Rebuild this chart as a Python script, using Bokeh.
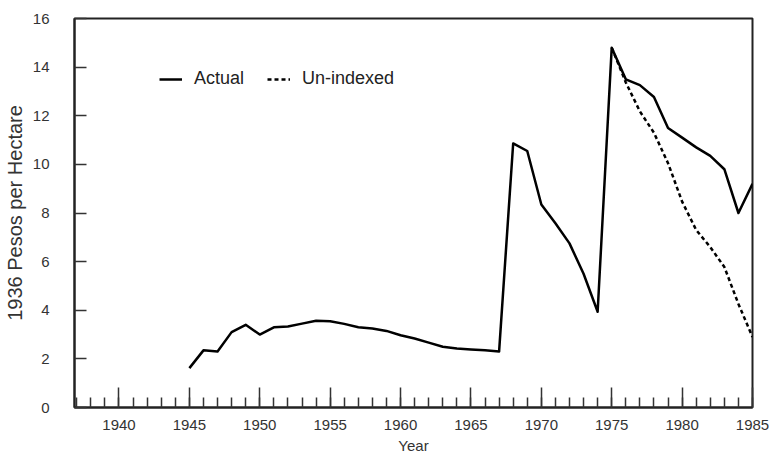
from bokeh.plotting import figure
from bokeh.models import SingleIntervalTicker, FixedTicker, Legend, LegendItem
from bokeh.embed import file_html
from bokeh.resources import INLINE

# Data
years_actual = list(range(1945, 1986))
actual = [1.62, 2.35, 2.3, 3.1, 3.4, 3.0, 3.3, 3.33, 3.45, 3.57,
          3.55, 3.44, 3.3, 3.25, 3.15, 2.97, 2.84, 2.67, 2.5, 2.43,
          2.39, 2.35, 2.3, 10.86, 10.55, 8.35, 7.58, 6.75, 5.5, 3.94,
          14.8, 13.5, 13.26, 12.77, 11.5, 11.1, 10.7, 10.35, 9.8, 8.0,
          9.2]
years_unindexed = list(range(1975, 1986))
unindexed = [14.8, 13.37, 12.18, 11.3, 10.05, 8.47, 7.3, 6.6, 5.78, 4.26, 2.9]
y_ticks = [0, 2, 4, 6, 8, 10, 12, 14, 16]

FONT = "Liberation Sans"
TXT = "#333333"

p = figure(width=775, height=458, x_range=(1936.84, 1985), y_range=(0, 16),
           output_backend="svg", toolbar_location=None,
           min_border_left=73, min_border_right=23, min_border_top=18,
           min_border_bottom=51)
p.grid.visible = False
p.background_fill_color = "white"
p.border_fill_color = "white"
p.outline_line_color = "#222222"
p.outline_line_width = 2

r_act = p.line(years_actual, actual, line_color="black", line_width=2.5,
               line_join="round")
r_un = p.line(years_unindexed, unindexed, line_color="black", line_width=2.5,
              line_dash="4 3")

# X axis
xa = p.xaxis[0]
xa.ticker = SingleIntervalTicker(interval=5, num_minor_ticks=5)
xa.axis_label = "Year"
xa.axis_label_text_font = FONT
xa.axis_label_text_font_style = "normal"
xa.axis_label_text_font_size = "15px"
xa.axis_label_text_color = TXT
xa.axis_label_standoff = 4
xa.major_label_text_font = FONT
xa.major_label_text_font_size = "15px"
xa.major_label_text_color = TXT
xa.major_label_standoff = 12
xa.major_tick_in = 20
xa.major_tick_out = 0
xa.minor_tick_in = 10
xa.minor_tick_out = 0
xa.major_tick_line_color = "#333333"
xa.minor_tick_line_color = "#333333"
xa.major_tick_line_width = 1.5
xa.minor_tick_line_width = 1.5
xa.axis_line_color = "#222222"
xa.axis_line_width = 2

# Y axis
ya = p.yaxis[0]
ya.ticker = FixedTicker(ticks=y_ticks)
ya.axis_label = "1936 Pesos per Hectare"
ya.axis_label_text_font = FONT
ya.axis_label_text_font_style = "normal"
ya.axis_label_text_font_size = "20px"
ya.axis_label_text_color = TXT
ya.axis_label_standoff = 4
ya.major_label_text_font = FONT
ya.major_label_text_font_size = "15px"
ya.major_label_text_color = TXT
ya.major_label_standoff = 25
ya.major_tick_in = 12
ya.major_tick_out = 0
ya.minor_tick_in = 0
ya.minor_tick_out = 0
ya.major_tick_line_color = "#333333"
ya.major_tick_line_width = 1.5
ya.axis_line_color = "#222222"
ya.axis_line_width = 2

legend = Legend(items=[LegendItem(label="Actual", renderers=[r_act]),
                       LegendItem(label="Un-indexed", renderers=[r_un])],
                orientation="horizontal", location=(85, 318),
                border_line_color=None, background_fill_alpha=0,
                padding=0, margin=0, spacing=23, label_standoff=12,
                glyph_width=23, glyph_height=20, label_height=20,
                label_text_font=FONT, label_text_font_size="18px",
                label_text_color="#222222")
p.add_layout(legend)

open("out.html", "w").write(file_html(p, INLINE))
